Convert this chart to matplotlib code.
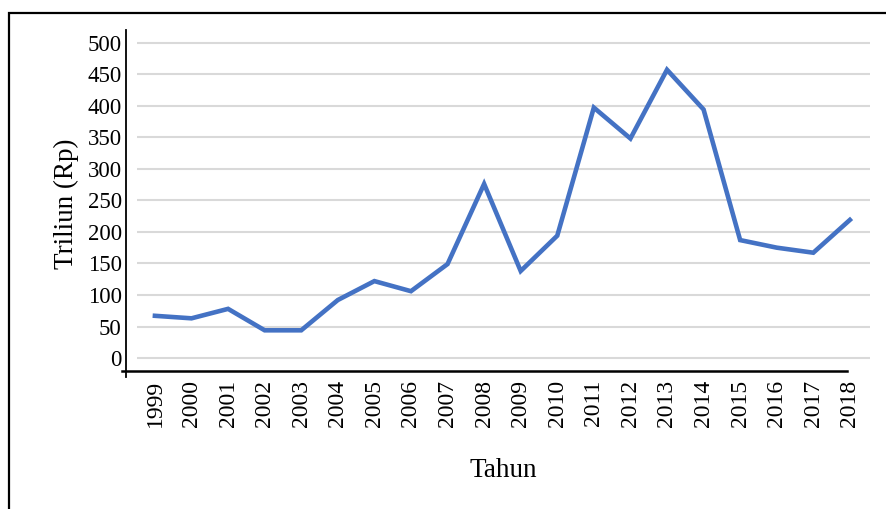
import matplotlib
matplotlib.use("Agg")
import matplotlib.pyplot as plt
from matplotlib.patches import Rectangle

# Data
tahun = [str(t) for t in range(1999, 2019)]
nilai = [67, 63, 78, 44, 44, 92, 122, 106, 149, 276,
         138, 194, 397, 348, 457, 394, 187, 175, 167, 219]
yticks = [0, 50, 100, 150, 200, 250, 300, 350, 400, 450, 500]

plt.rcParams["font.family"] = ["Liberation Serif", "DejaVu Serif"]

fig = plt.figure(figsize=(8.87, 5.09), dpi=100)
ax = fig.add_axes([137 / 887, 1 - 377 / 509, 733 / 887, 347 / 509])

index = list(range(len(tahun)))
ax.plot(index, nilai, color="#4472C4", linewidth=3.3, solid_joinstyle="miter")

ax.set_xlim(-0.49, len(tahun) - 1 + 0.55)
ax.set_ylim(-30, 520)
ax.set_yticks(yticks)
ax.set_yticklabels([str(v) for v in yticks])
ax.set_xticks(index)
ax.set_xticklabels(tahun, rotation=90)

ax.grid(True, axis="y", color="#D9D9D9", linewidth=1.5)
ax.set_axisbelow(True)

for s in ["top", "right", "bottom"]:
    ax.spines[s].set_visible(False)
ax.spines["left"].set_position(("outward", 8))
ax.spines["left"].set_linewidth(1.3)
ax.tick_params(axis="y", length=0, pad=3, labelsize=16.5)
ax.tick_params(axis="x", length=0, pad=2, labelsize=17)

# garis sumbu x (di bawah nol, seperti di Excel)
ax.axhline(-20, xmin=-0.02, xmax=0.969, color="black", linewidth=1.8, clip_on=False)

ax.set_ylabel("Triliun (Rp)", fontsize=19.5, labelpad=6)
ax.set_xlabel("Tahun", fontsize=19.5, labelpad=22)

# bingkai gambar
fig.patches.append(Rectangle((9 / 887, -0.1), 1.2, 1 - 13 / 509 + 0.1,
                             transform=fig.transFigure, fill=False,
                             edgecolor="black", linewidth=1.6))

fig.savefig("out.png", dpi=100)
